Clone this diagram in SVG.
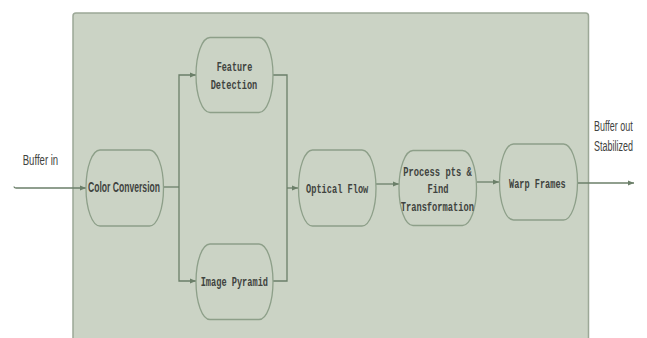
<svg xmlns="http://www.w3.org/2000/svg" width="647" height="338" viewBox="0 0 647 338">
<defs>
<style>
.bg{fill:#cbd3c5;stroke:#9ca897;stroke-width:1.5}
.node{fill:#cbd3c5;stroke:#8d9f89;stroke-width:1.3}
.mono{font-family:"Liberation Mono","DejaVu Sans Mono",monospace;font-size:13.5px;font-weight:bold;fill:#3f4340}
.sans{font-family:"Liberation Sans",Arial,sans-serif;font-size:14.5px;fill:#3f4340}
.edge{fill:none;stroke:#6b7f69;stroke-width:1.3}
</style>
<marker id="arr" viewBox="0 0 10 10" refX="10" refY="5" markerWidth="6" markerHeight="6" orient="auto" markerUnits="userSpaceOnUse">
<path d="M0,1 L10,5 L0,9 z" fill="#6b7f69"/>
</marker>
</defs>
<rect class="bg" x="73" y="13" width="515.5" height="340" rx="3"/>
<g id="connectors">
<path class="edge" d="M14,186.5 Q14,188 16,188 L86,188" marker-end="url(#arr)"/>
<path class="edge" d="M163.5,187 L179,187"/>
<path class="edge" d="M179,187 L179,75 L196,75" marker-end="url(#arr)"/>
<path class="edge" d="M179,187 L179,281 L196,281" marker-end="url(#arr)"/>
<path class="edge" d="M273,75 L287,75 L287,281 L273,281"/>
<path class="edge" d="M287,188 L298,188" marker-end="url(#arr)"/>
<path class="edge" d="M376,184 L399,184" marker-end="url(#arr)"/>
<path class="edge" d="M477,182 L499,182" marker-end="url(#arr)"/>
<path class="edge" d="M577.5,183 L634,183" marker-end="url(#arr)"/>
</g>
<g id="buffer-in"><text class="sans" x="22.7" y="164.5" textLength="35.5" lengthAdjust="spacingAndGlyphs">Buffer in</text></g>
<g id="buffer-out">
<text class="sans" transform="translate(594,131) scale(0.62,1)" x="0" y="0">Buffer out</text>
<text class="sans" transform="translate(594,151) scale(0.62,1)" x="0" y="0">Stabilized</text>
</g>
<g id="color-conversion">
<rect class="node" x="86" y="150" width="77.5" height="76" rx="14" ry="38"/>
<text class="sans" x="88" y="191.5" font-weight="bold" textLength="72" lengthAdjust="spacingAndGlyphs">Color Conversion</text>
</g>
<g id="feature-detection">
<rect class="node" x="196" y="37.5" width="77" height="75" rx="14" ry="37.5"/>
<text class="mono" x="216.7" y="71" textLength="35.6" lengthAdjust="spacingAndGlyphs">Feature</text>
<text class="mono" x="210.7" y="88.5" textLength="46.6" lengthAdjust="spacingAndGlyphs">Detection</text>
</g>
<g id="image-pyramid">
<rect class="node" x="196" y="244" width="77" height="75.5" rx="14" ry="37.75"/>
<text class="mono" x="200.7" y="286" textLength="67.3" lengthAdjust="spacingAndGlyphs">Image Pyramid</text>
</g>
<g id="optical-flow">
<rect class="node" x="298.5" y="150" width="77.5" height="76" rx="14" ry="38"/>
<text class="mono" x="306" y="192.5" textLength="62.3" lengthAdjust="spacingAndGlyphs">Optical Flow</text>
</g>
<g id="process">
<rect class="node" x="399" y="150.5" width="77.5" height="75" rx="14" ry="37.5"/>
<text class="mono" x="403.3" y="176" textLength="68.4" lengthAdjust="spacingAndGlyphs">Process pts &amp;</text>
<text class="mono" x="427.5" y="193" textLength="21" lengthAdjust="spacingAndGlyphs">Find</text>
<text class="mono" x="400.7" y="210.5" textLength="73.3" lengthAdjust="spacingAndGlyphs">Transformation</text>
</g>
<g id="warp-frames">
<rect class="node" x="499.5" y="144" width="78" height="76" rx="14" ry="38"/>
<text class="mono" x="509" y="187.5" textLength="56.7" lengthAdjust="spacingAndGlyphs">Warp Frames</text>
</g>
</svg>
